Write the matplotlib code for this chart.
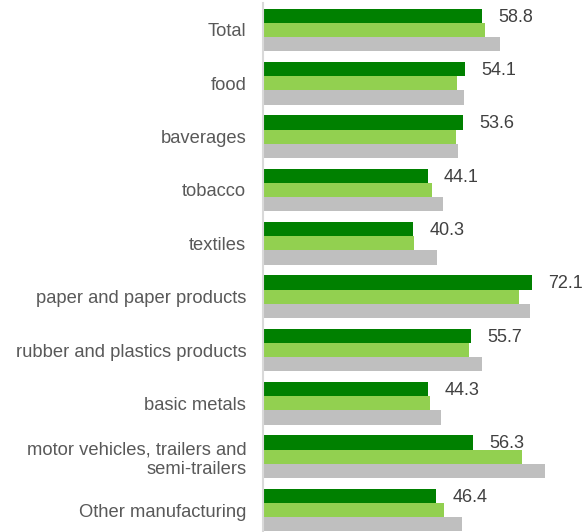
import matplotlib
matplotlib.use("Agg")
import matplotlib.pyplot as plt
import numpy as np

categories = ["Total", "food", "baverages", "tobacco", "textiles",
              "paper and paper products", "rubber and plastics products",
              "basic metals", "motor vehicles, trailers and\nsemi-trailers",
              "Other manufacturing"]
series_dark = [58.8, 54.1, 53.6, 44.1, 40.3, 72.1, 55.7, 44.3, 56.3, 46.4]
series_light = [59.5, 52.1, 51.8, 45.2, 40.4, 68.5, 55.3, 44.8, 69.3, 48.5]
series_gray = [63.4, 53.9, 52.2, 48.2, 46.7, 71.5, 58.7, 47.6, 75.5, 53.3]

plt.rcParams['font.family'] = ['Liberation Sans', 'DejaVu Sans']

fig = plt.figure(figsize=(5.84, 5.32), dpi=100)
ax = fig.add_axes([263/584, -4.7/532, 1 - 263/584, 1 + (4.7 - 3.3)/532])

n = len(categories)
y = np.arange(n)
h = 0.268
ax.barh(y - h, series_dark, height=h, color="#008000", edgecolor="none")
ax.barh(y, series_light, height=h, color="#92D050", edgecolor="none")
ax.barh(y + h, series_gray, height=h, color="#BFBFBF", edgecolor="none")

for yi, v in zip(y, series_dark):
    ax.annotate(f"{v:.1f}", xy=(v, yi - h), xytext=(16, -1.5), textcoords="offset pixels",
                ha="left", va="center", fontsize=13, color="#404040")

ax.set_xlim(0, 86)
ax.set_ylim(n - 0.5, -0.5)
ax.set_yticks(y)
ax.set_yticklabels(categories, fontsize=13.2, color="#595959", linespacing=1.15)
ax.tick_params(axis="y", length=0, pad=12)
ax.set_xticks([])
for s in ["top", "right", "bottom"]:
    ax.spines[s].set_visible(False)
ax.spines["left"].set_color("#D9D9D9")
ax.spines["left"].set_linewidth(1.5)

fig.savefig("out.png", dpi=100)
